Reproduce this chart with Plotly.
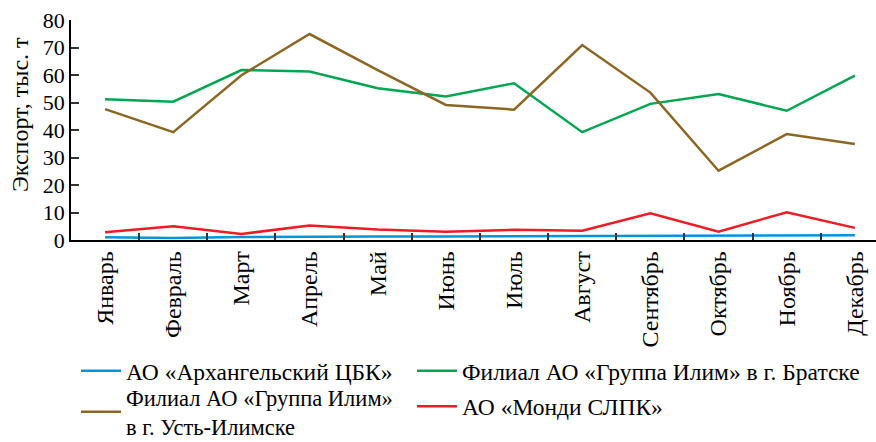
import plotly.graph_objects as go

months = ["Январь", "Февраль", "Март", "Апрель", "Май", "Июнь", "Июль",
          "Август", "Сентябрь", "Октябрь", "Ноябрь", "Декабрь"]

arkhangelsk = [1.0, 0.7, 1.1, 1.3, 1.3, 1.3, 1.4, 1.4, 1.5, 1.5, 1.6, 1.7]
bratsk = [51.2, 50.3, 61.8, 61.3, 55.2, 52.2, 57.0, 39.2, 49.5, 53.1, 47.0, 59.8]
ust_ilimsk = [47.6, 39.2, 59.9, 74.9, 61.8, 49.1, 47.4, 70.9, 53.6, 25.2, 38.5, 34.9]
mondi = [2.8, 5.0, 2.2, 5.3, 3.8, 3.0, 3.7, 3.4, 9.7, 3.0, 10.1, 4.4]

names = ["АО «Архангельский ЦБК»",
         "Филиал АО «Группа Илим» в г. Братске",
         "Филиал АО «Группа Илим»<br>в г. Усть-Илимске",
         "АО «Монди СЛПК»"]
colors = ["#0095da", "#00a651", "#8c6623", "#ed1c24"]
legend_ids = ["legend", "legend2", "legend3", "legend2"]
series = [arkhangelsk, bratsk, ust_ilimsk, mondi]
y_title = "Экспорт, тыс. т"

FONT = "Liberation Serif"

fig = go.Figure()
for i, (nm, col, vals, lg) in enumerate(zip(names, colors, series, legend_ids)):
    fig.add_trace(go.Scatter(x=months, y=vals, mode="lines", name=nm,
                             legend=lg, legendgroup=f"g{i}",
                             line=dict(color=col, width=2.5)))

leg_common = dict(orientation="v", yanchor="top", xanchor="left",
                  xref="container", yref="container",
                  traceorder="grouped", itemwidth=40,
                  bgcolor="rgba(0,0,0,0)")

fig.update_layout(
    width=876, height=442,
    margin=dict(l=71, r=0, t=20, b=202, autoexpand=False),
    plot_bgcolor="white", paper_bgcolor="white",
    font=dict(family=FONT, size=22, color="black"),
    showlegend=True,
    legend=dict(x=76 / 876, y=1 - 349 / 442, tracegroupgap=0,
                font=dict(family=FONT, size=23.5, color="black"), **leg_common),
    legend2=dict(x=412 / 876, y=1 - 349 / 442, tracegroupgap=2,
                 font=dict(family=FONT, size=23.5, color="black"), **leg_common),
    legend3=dict(x=76 / 876, y=1 - 376 / 442, tracegroupgap=0,
                 font=dict(family=FONT, size=22.5, color="black"), **leg_common),
    annotations=[dict(text=y_title, xref="paper", yref="paper",
                      x=-51 / 805, y=(240 - 115) / 220, xanchor="center", yanchor="middle",
                      textangle=-90, showarrow=False,
                      font=dict(family=FONT, size=24, color="black"))],
)
fig.update_xaxes(range=[-0.5, 11.31], showline=True, linecolor="black", linewidth=1.5,
                 ticks="inside", ticklen=7, tickcolor="#333", tickwidth=1.5,
                 tickson="boundaries", tickangle=-90, showgrid=False, automargin=False,
                 tickfont=dict(family=FONT, size=24, color="black"))
fig.update_yaxes(range=[0, 80], dtick=10, showline=True, linecolor="black", linewidth=1.5,
                 ticks="inside", ticklen=8, tickcolor="#333", tickwidth=1.5,
                 showgrid=False, zeroline=False, automargin=False,
                 tickfont=dict(family=FONT, size=22, color="black"))

fig.write_html("out.html", config={"displayModeBar": False},
               post_script="document.body.style.margin='0px';")
